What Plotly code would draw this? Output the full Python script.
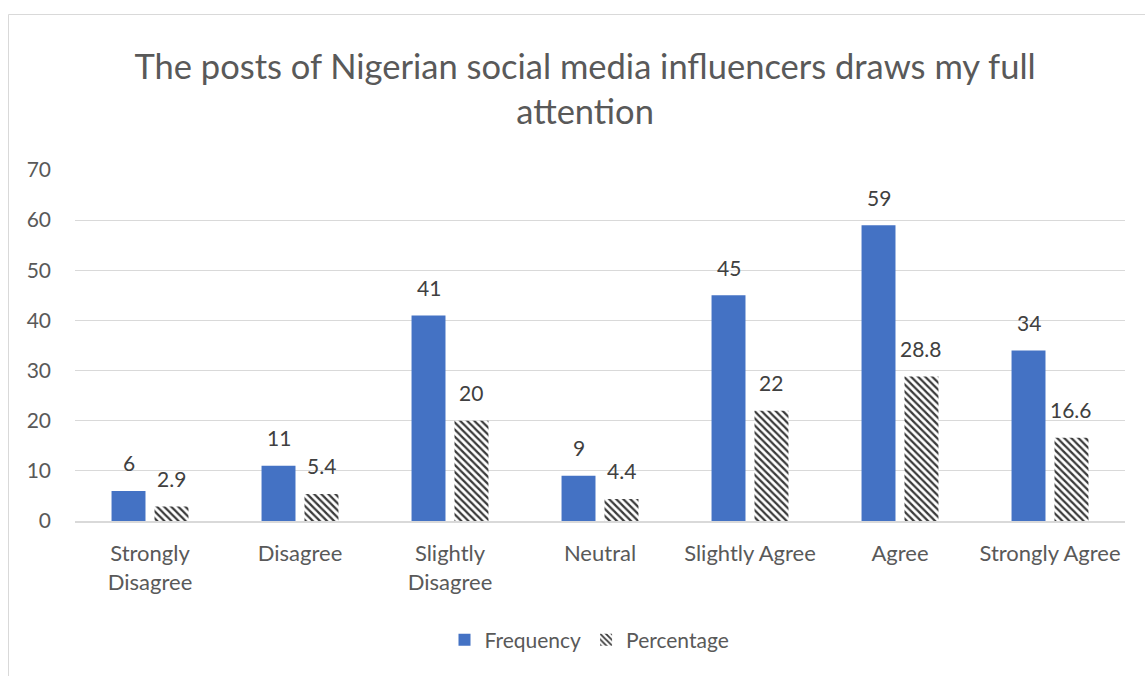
import plotly.graph_objects as go

categories = ["Strongly<br>Disagree", "Disagree", "Slightly<br>Disagree", "Neutral",
              "Slightly Agree", "Agree", "Strongly Agree"]
frequency = [6, 11, 41, 9, 45, 59, 34]
percentage = [2.9, 5.4, 20, 4.4, 22, 28.8, 16.6]
y_ticks = [0, 10, 20, 30, 40, 50, 60, 70]

W, H = 1145, 676
L, R, T, B = 75, 20, 170, 155
pw, ph = W - L - R, H - T - B

font = "Lato, Carlito, Calibri, sans-serif"
BARGAP, GROUPGAP = 0.427, 0.21

fig = go.Figure()
fig.add_trace(go.Bar(
    name="Frequency", x=categories, y=frequency,
    marker=dict(color="#4472C4", line=dict(width=0)),
))
fig.add_trace(go.Bar(
    name="Percentage", x=categories, y=percentage,
    marker=dict(color="white", line=dict(width=0),
                pattern=dict(shape="\\", fgcolor="#3a3a3a", fgopacity=1,
                             bgcolor="white", size=5, solidity=0.45)),
))

# value labels floating above each bar
slot = pw / len(categories) * (1 - BARGAP) / 2
for series, fmt, side in ((frequency, str, -1), (percentage, lambda v: f"{v:g}", 1)):
    for cat, v in zip(categories, series):
        fig.add_annotation(x=cat, y=v, xref="x", yref="y", text=fmt(v),
                           showarrow=False, xanchor="center", yanchor="middle",
                           xshift=side * slot / 2, yshift=28,
                           font=dict(size=21, color="#404040", family=font))

# outer chart frame
fig.add_shape(type="rect", xref="paper", yref="paper",
              x0=(8.5 - L) / pw, x1=(W + 5 - L) / pw,
              y0=-(H + 5 - (T + ph)) / ph, y1=(T + ph - 14.5) / ph,
              line=dict(color="#d9d9d9", width=1), fillcolor="rgba(0,0,0,0)", layer="below")

fig.update_layout(
    width=W, height=H,
    margin=dict(l=L, r=R, t=T, b=B, pad=0),
    paper_bgcolor="white", plot_bgcolor="white",
    title=dict(text="The posts of Nigerian social media influencers draws my full<br>attention",
               x=0.511, xanchor="center", y=1 - 79 / H, yanchor="middle",
               font=dict(size=34.5, color="#595959", family=font)),
    barmode="group", bargap=BARGAP, bargroupgap=GROUPGAP,
    font=dict(family=font, color="#595959"),
    xaxis=dict(showline=True, linecolor="#d9d9d9", linewidth=2, ticks="",
               tickfont=dict(size=22, color="#595959"), ticklabelstandoff=12),
    yaxis=dict(range=[0, 70], tickvals=y_ticks, showgrid=True, gridcolor="#d9d9d9",
               gridwidth=1, zeroline=False, ticks="", ticklen=0,
               tickfont=dict(size=21, color="#595959"), ticklabelstandoff=23),
    legend=dict(orientation="h", x=0.49, xanchor="center", y=-(640 - 521) / ph,
                yanchor="middle", font=dict(size=21, color="#595959"),
                itemwidth=30),
    showlegend=True,
)

fig.write_html("out.html")
